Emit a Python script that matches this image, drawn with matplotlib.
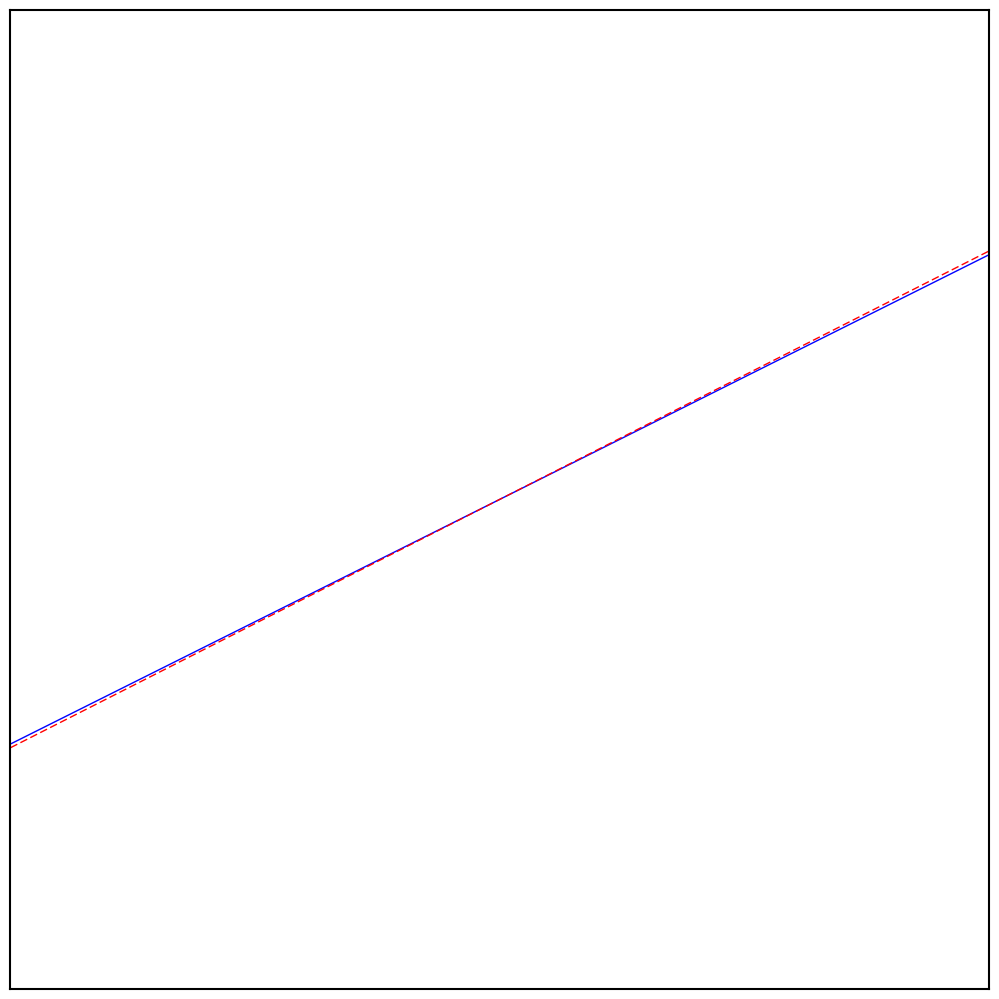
import matplotlib
matplotlib.use('Agg')
import matplotlib.pyplot as plt

# line end points, axis units
x_vals = [0.0, 1.0]
blue_y = [0.25, 0.75]
red_y = [0.2462, 0.7538]

fig = plt.figure(figsize=(9.99, 9.99), dpi=100)
ax = fig.add_axes([0.0105, 0.0105, 0.979, 0.979])
ax.plot(x_vals, blue_y, color='blue', linewidth=1.0)
ax.plot(x_vals, red_y, color='red', linestyle=(0, (5.5, 2.5)), linewidth=1.0)
ax.set_xlim(0, 1)
ax.set_ylim(0, 1)
ax.set_xticks([])
ax.set_yticks([])
for s in ax.spines.values():
    s.set_linewidth(1.5)

fig.savefig('out.png', dpi=100)
